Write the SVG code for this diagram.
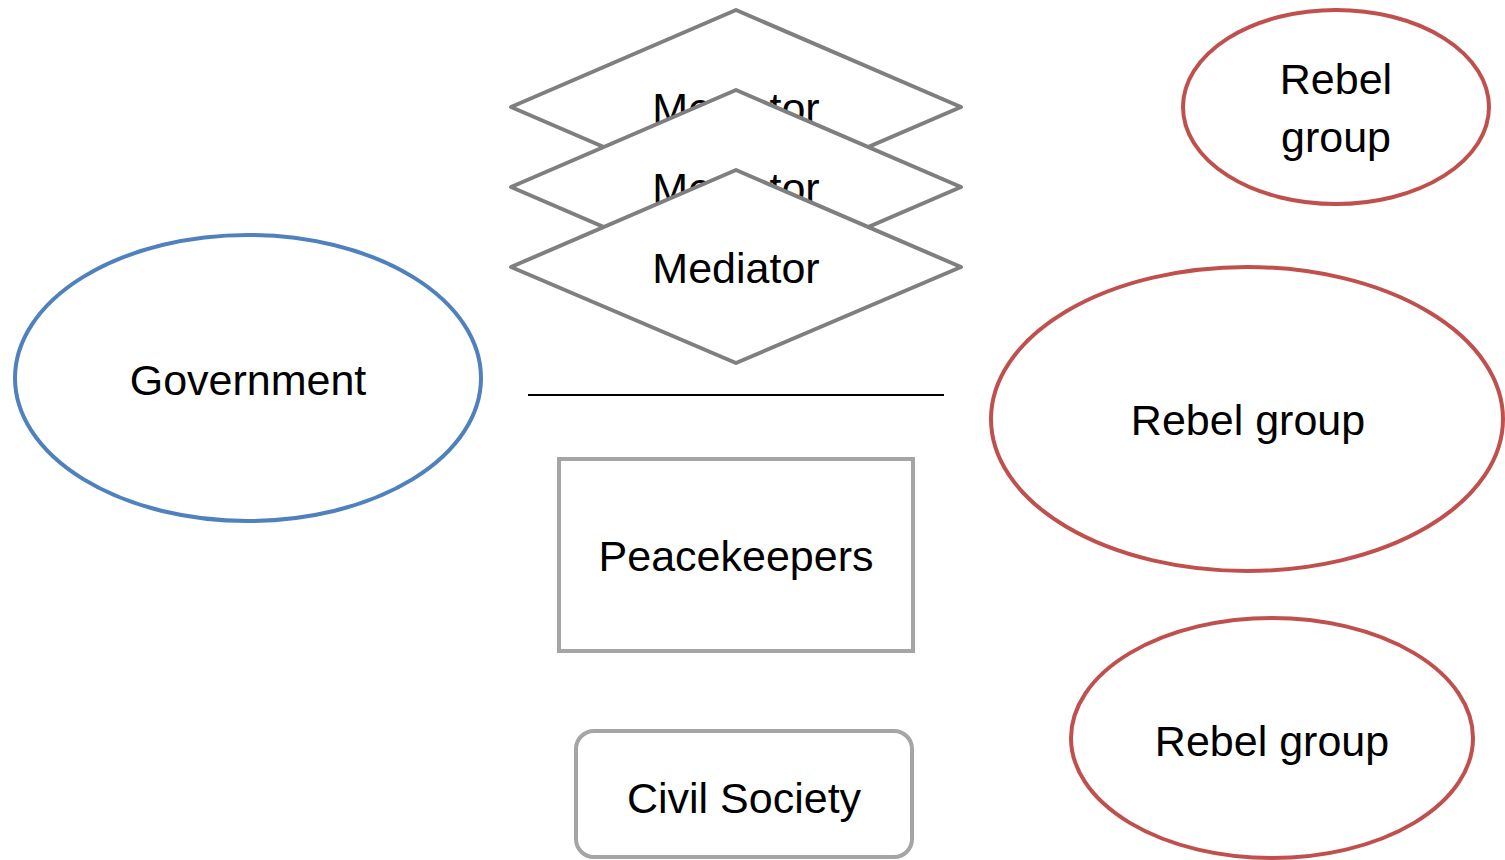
<svg xmlns="http://www.w3.org/2000/svg" width="1505" height="860" viewBox="0 0 1505 860">
<style>
text{font-family:"Liberation Sans","Open Sans",sans-serif;font-size:43px;fill:#000;text-anchor:middle}
.gov{fill:#fff;stroke:#4F81BD;stroke-width:4}
.reb{fill:#fff;stroke:#C0504D;stroke-width:4}
.med{fill:#fff;stroke:#7F7F7F;stroke-width:4;stroke-linejoin:round}
.box{fill:#fff;stroke:#A5A5A5;stroke-width:4}
</style>
<rect width="1505" height="860" fill="#fff"/>
<g id="government"><ellipse class="gov" cx="248" cy="378" rx="233" ry="143"/><text x="248" y="395">Government</text></g>
<g id="rebel1"><ellipse class="reb" cx="1336" cy="107" rx="153" ry="97"/><text x="1336" y="94">Rebel</text><text x="1336" y="152">group</text></g>
<g id="rebel2"><ellipse class="reb" cx="1247" cy="419" rx="256" ry="152"/><text x="1248" y="435">Rebel group</text></g>
<g id="rebel3"><ellipse class="reb" cx="1272" cy="738" rx="201" ry="120"/><text x="1272" y="756">Rebel group</text></g>
<g id="mediator1"><polygon class="med" points="736,10 961,107 736,204 511,107"/><text x="736" y="123">Mediator</text></g>
<g id="mediator2"><polygon class="med" points="736,90 961,187 736,284 511,187"/><text x="736" y="203">Mediator</text></g>
<g id="mediator3"><polygon class="med" points="736,170 961,267 736,363 511,267"/><text x="736" y="283">Mediator</text></g>
<g id="connectors"><line x1="528" y1="395" x2="944" y2="395" stroke="#000" stroke-width="2"/></g>
<g id="peacekeepers"><rect class="box" x="559" y="459" width="354" height="192"/><text x="736" y="571">Peacekeepers</text></g>
<g id="civil"><rect class="box" x="576" y="731" width="336" height="126" rx="18"/><text x="744" y="813">Civil Society</text></g>
</svg>
